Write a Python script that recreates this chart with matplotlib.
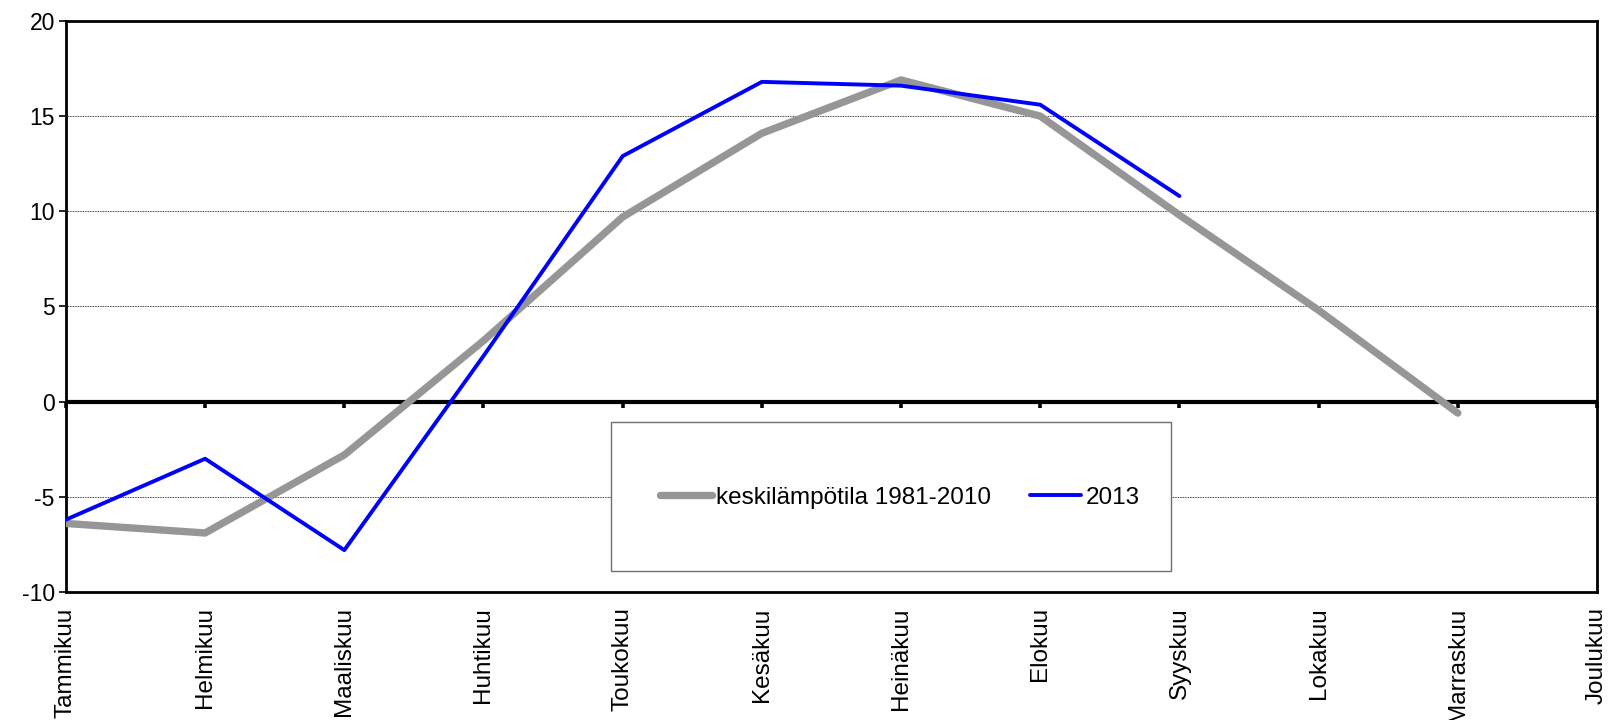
import numpy as np
import matplotlib.pyplot as plt
from matplotlib.patches import Rectangle

plt.rcParams['font.family'] = ['Liberation Sans', 'DejaVu Sans']
plt.rcParams['axes.unicode_minus'] = False

months = ['Tammikuu', 'Helmikuu', 'Maaliskuu', 'Huhtikuu', 'Toukokuu', 'Kesäkuu',
          'Heinäkuu', 'Elokuu', 'Syyskuu', 'Lokakuu', 'Marraskuu', 'Joulukuu']
normal = [-6.4, -6.9, -2.8, 3.2, 9.7, 14.1, 16.9, 15.0, 9.8, 4.8, -0.6, np.nan]
year2013 = [-6.2, -3.0, -7.8, 2.4, 12.9, 16.8, 16.6, 15.6, 10.8, np.nan, np.nan, np.nan]

x = np.arange(len(months))

fig = plt.figure(figsize=(16.12, 7.2), dpi=100)
ax = fig.add_axes([0.0409, 0.1778, 0.9498, 0.7931])

ax.plot(x, normal, color='#969696', lw=5.3, solid_capstyle='round',
        solid_joinstyle='round', label='keskilämpötila 1981-2010', zorder=4)
ax.plot(x, year2013, color='#0000ff', lw=2.8, solid_capstyle='round',
        label='2013', zorder=5)

ymin, ymax = -10, 20
ax.set_xlim(0, len(months) - 1)
ax.set_ylim(ymin, ymax)
ax.set_yticks(range(-10, 21, 5))
ax.set_xticks(x)
ax.set_xticklabels(months, rotation=90, va='top', ha='center', fontsize=17.5)
ax.tick_params(axis='x', length=0, pad=11)
ax.tick_params(axis='y', direction='out', length=5, width=1.2, labelsize=16.5, pad=3)

ax.yaxis.grid(True, color='black', linestyle=(0, (1, 1)), lw=0.6)
ax.set_axisbelow(True)
for s in ax.spines.values():
    s.set_linewidth(2)

# thick zero line with ticks
ax.axhline(0, color='black', lw=3, zorder=3)
sec = ax.secondary_xaxis((0 - ymin) / (ymax - ymin))
sec.set_xticks(x)
sec.set_xticklabels([])
sec.tick_params(direction='out', length=4, width=2.6)
sec.spines['bottom'].set_visible(False)

# legend box
ax.add_patch(Rectangle((0.356, 0.037), 0.366, 0.261, transform=ax.transAxes,
                       facecolor='white', edgecolor='#707070', lw=1.0, zorder=6))
leg = ax.legend(loc='center', bbox_to_anchor=(0.545, 0.165), ncol=2, frameon=False,
                fontsize=17.5, handlelength=2.1, handletextpad=0.2, columnspacing=1.6)
leg.set_zorder(7)

fig.savefig('out.png', dpi=100)
